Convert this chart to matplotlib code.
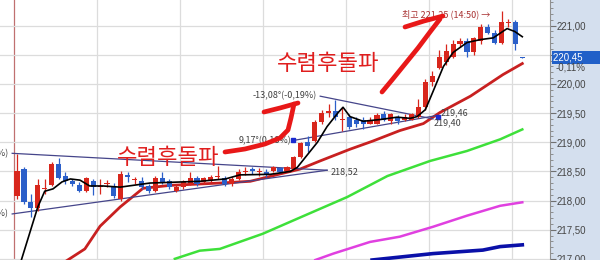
import matplotlib
matplotlib.use('Agg')
import matplotlib.pyplot as plt
import matplotlib.transforms as mtransforms
from matplotlib.ticker import MultipleLocator, FuncFormatter

plt.rcParams['font.family'] = ['Noto Sans CJK KR', 'DejaVu Sans']

# candle data (1 min bars)
opens = [218.08, 218.54, 217.97, 217.87, 218.20, 218.26, 218.62, 218.42, 218.33, 218.26,
         218.16, 218.33, 218.23, 218.28, 218.25, 218.03, 218.44, 218.35, 218.33, 218.25,
         218.16, 218.38, 218.33, 218.16, 218.23, 218.28, 218.38, 218.32, 218.33, 218.40,
         218.38, 218.28, 218.37, 218.49, 218.54, 218.49, 218.49, 218.50, 218.56, 218.50,
         218.54, 218.74, 219.00, 219.02, 219.34, 219.51, 219.53, 219.39, 219.43, 219.39,
         219.38, 219.32, 219.32, 219.48, 219.36, 219.43, 219.38, 219.39, 219.43, 219.60,
         220.03, 220.28, 220.37, 220.47, 220.68, 220.73, 220.54, 220.73, 220.98, 220.88,
         220.71, 221.05, 221.07, 220.46]
highs = [218.80, 218.57, 218.11, 218.37, 218.37, 218.66, 218.73, 218.49, 218.37, 218.32,
         218.40, 218.37, 218.37, 218.35, 218.30, 218.50, 218.49, 218.40, 218.40, 218.28,
         218.42, 218.49, 218.37, 218.26, 218.35, 218.49, 218.42, 218.40, 218.44, 218.59,
         218.42, 218.40, 218.54, 218.57, 218.57, 218.56, 218.54, 218.59, 218.57, 218.59,
         218.76, 219.00, 219.10, 219.38, 219.56, 219.65, 219.72, 219.60, 219.48, 219.43,
         219.43, 219.43, 219.51, 219.53, 219.51, 219.46, 219.48, 219.51, 219.74, 220.08,
         220.22, 220.59, 220.68, 220.76, 220.79, 220.79, 220.81, 221.03, 221.03, 220.93,
         221.25, 221.12, 221.09, 220.47]
lows = [218.03, 217.94, 217.72, 217.82, 218.11, 218.25, 218.37, 218.28, 218.25, 218.15,
        218.15, 218.09, 218.11, 218.23, 218.04, 217.99, 218.32, 218.28, 218.20, 218.13,
        218.15, 218.28, 218.20, 218.15, 218.20, 218.26, 218.25, 218.28, 218.32, 218.37,
        218.25, 218.25, 218.35, 218.44, 218.45, 218.42, 218.40, 218.49, 218.47, 218.49,
        218.52, 218.73, 218.83, 219.00, 219.32, 219.44, 219.39, 219.19, 219.22, 219.26,
        219.22, 219.31, 219.31, 219.36, 219.32, 219.32, 219.36, 219.38, 219.41, 219.56,
        219.96, 220.25, 220.32, 220.45, 220.64, 220.47, 220.50, 220.69, 220.85, 220.68,
        220.69, 220.97, 220.59, 220.44]
closes = [218.51, 217.97, 217.87, 218.26, 218.21, 218.62, 218.38, 218.33, 218.28, 218.16,
          218.38, 218.23, 218.25, 218.30, 218.08, 218.45, 218.40, 218.35, 218.23, 218.16,
          218.38, 218.32, 218.23, 218.23, 218.32, 218.38, 218.28, 218.38, 218.40, 218.40,
          218.28, 218.37, 218.49, 218.50, 218.50, 218.50, 218.44, 218.57, 218.49, 218.57,
          218.74, 218.98, 218.93, 219.34, 219.51, 219.53, 219.43, 219.39, 219.26, 219.31,
          219.32, 219.39, 219.46, 219.39, 219.48, 219.36, 219.44, 219.48, 219.60, 220.04,
          220.13, 220.47, 220.56, 220.68, 220.73, 220.54, 220.78, 220.98, 220.88, 220.71,
          221.07, 221.07, 220.68, 220.45]

# moving averages (bar index, value)
ma5_x = [0.6, 3.0, 4.0, 5.2, 6.5, 7.7, 9.1, 10.5, 12.4, 14.9, 19.2, 26.4, 30.1, 32.2, 36.6,
         39.5, 40.5, 43.4, 44.8, 46.4, 47.1, 48.1, 50.0, 52.5, 54.9, 56.8, 57.8, 59.0, 60.1,
         61.6, 63.0, 65.0, 66.9, 68.8, 70.8, 71.9, 73.0]
ma5_y = [216.97, 217.89, 218.16, 218.20, 218.32, 218.37, 218.35, 218.25, 218.25, 218.23,
         218.30, 218.33, 218.37, 218.44, 218.45, 218.50, 218.57, 219.00, 219.27, 219.51,
         219.60, 219.44, 219.36, 219.39, 219.43, 219.41, 219.44, 219.56, 219.87, 220.30,
         220.54, 220.71, 220.76, 220.79, 220.95, 220.90, 220.81]
ma20_x = [7.2, 9.8, 12.0, 14.9, 18.2, 22.1, 29.3, 33.7, 36.1, 40.9, 43.8, 48.1, 51.4, 55.3,
          58.7, 61.1, 65.5, 70.2, 73.0]
ma20_y = [216.97, 217.17, 217.56, 217.89, 218.21, 218.26, 218.30, 218.33, 218.40, 218.54,
          218.68, 218.88, 219.02, 219.20, 219.32, 219.51, 219.79, 220.16, 220.35]
ma60_x = [22.8, 26.4, 29.3, 35.5, 41.3, 47.7, 53.5, 59.7, 65.0, 69.8, 73.0]
ma60_y = [217.00, 217.14, 217.17, 217.43, 217.73, 218.06, 218.42, 218.68, 218.85, 219.05, 219.22]
ma120_x = [43.1, 45.7, 51.0, 55.3, 60.1, 65.0, 69.8, 73.0]
ma120_y = [216.98, 217.09, 217.29, 217.38, 217.55, 217.74, 217.91, 217.97]
ma240_x = [51.3, 55.3, 60.1, 67.3, 69.8, 73.0]
ma240_y = [216.98, 217.03, 217.09, 217.15, 217.21, 217.24]

# trend lines: (x0, y0, x1, y1)
trend_lines = [(-0.7, 218.81, 44.8, 218.52),
               (-0.7, 217.77, 44.8, 218.52),
               (43.8, 219.79, 60.1, 219.40),
               (39.9, 219.03, 60.7, 219.46)]

last_price = 220.45
last_change = '-0,11%'
high_price = 221.25
high_time = '14:50'

UP = '#d8261c'
DOWN = '#2b5fc9'
TL = '#45458a'

fig = plt.figure(figsize=(6, 2.6), dpi=100, facecolor='#d4dfee')
ax = fig.add_axes([0, 0, 550 / 600, 1])
ax.set_facecolor('white')
ax.set_xlim(-2.46, 77.0)
ax.set_ylim(216.98, 221.44)

# grid
ax.yaxis.set_major_locator(MultipleLocator(0.5))
ax.yaxis.set_minor_locator(MultipleLocator(0.1))
ax.grid(axis='y', which='major', color='#dcdcdc', lw=0.9, zorder=0)
for gx in [11.5, 23.5, 35.5, 47.5, 59.5, 71.5]:
    ax.axvline(gx, color='#dcdcdc', lw=0.9, zorder=0)
ax.axvline(-0.45, color='#c07070', lw=0.9, zorder=0)

# moving averages
ax.plot(ma240_x, ma240_y, color='#0a10a8', lw=2.6, zorder=2)
ax.plot(ma120_x, ma120_y, color='#e040e0', lw=1.8, zorder=2)
ax.plot(ma60_x, ma60_y, color='#3ee03a', lw=1.8, zorder=2)
ax.plot(ma20_x, ma20_y, color='#c82020', lw=2.0, zorder=2)

# trend lines
for x0, y0, x1, y1 in trend_lines:
    ax.plot([x0, x1], [y0, y1], color=TL, lw=0.9, zorder=3)
ax.plot([39.9, 60.8], [219.03, 219.44], ls='none', marker='s', ms=3.5, color='#1a2ad0', zorder=6)

# candles
for i in range(len(opens)):
    o, h, l, c = opens[i], highs[i], lows[i], closes[i]
    col = UP if c >= o else DOWN
    ax.vlines(i, l, h, color=col, lw=0.9, zorder=4)
    ax.bar(i, max(abs(c - o), 0.015), bottom=min(o, c), width=0.74, color=col, lw=0, zorder=5)

ax.plot(ma5_x, ma5_y, color='black', lw=1.2, zorder=6)

# labels on trend lines
lab = dict(fontsize=6.5, color='#404040', zorder=7)
ax.text(45.3, 218.50, '218,52', va='center', ha='left', **lab)
ax.text(43.3, 219.80, '-13,08°(-0,19%)', va='center', ha='right', **lab)
ax.text(39.6, 219.03, '9,17°(0,18%)', va='center', ha='right', **lab)
ax.text(61.2, 219.50, '219,46', va='center', ha='left', **lab)
ax.text(60.2, 219.33, '219,40', va='center', ha='left', **lab)
ax.text(-1.2, 218.81, '-2,41°(-0,13%)', va='center', ha='right', **lab)
ax.text(-1.2, 217.77, '5,66°(0,34%)', va='center', ha='right', **lab)
ax.text(55.6, 221.19, f'최고 {high_price:.2f} ({high_time}) →'.replace('.', ','),
        va='center', ha='left', fontsize=6.5, color='#a83030', zorder=7)

# handwritten notes
note = dict(fontsize=16, color='#e01e1e', va='center', ha='left', weight='medium', zorder=8)
ax.text(14.4, 218.73, '수렴후돌파', **note)
ax.text(37.5, 220.35, '수렴후돌파', **note)

# right price axis
ax.yaxis.tick_right()
ax.yaxis.set_major_formatter(FuncFormatter(lambda v, p: f'{v:.2f}'.replace('.', ',')))
ax.tick_params(axis='y', which='major', length=4, color='#707070', labelsize=7,
               labelcolor='#454545', pad=1)
ax.tick_params(axis='y', which='minor', length=2, color='#808080')
ax.tick_params(axis='x', bottom=False, labelbottom=False)
for s in ['top', 'left', 'bottom']:
    ax.spines[s].set_visible(False)
ax.spines['right'].set_color('#909090')
for t in ax.get_yticklabels():
    t.set_fontfamily('Liberation Sans')

tr = mtransforms.blended_transform_factory(ax.transAxes, ax.transData)
ax.text(1.006, last_price, f'{last_price:.2f}'.replace('.', ',') + '        ', transform=tr,
        va='center', ha='left', fontsize=7, color='white', family='Liberation Sans',
        bbox=dict(boxstyle='square,pad=0.18', fc='#2160c8', ec='none'), clip_on=False, zorder=10)
ax.text(1.01, 220.29, last_change, transform=tr, va='center', ha='left', fontsize=7,
        color='#454545', family='Liberation Sans', clip_on=False, zorder=10)

# red marker strokes drawn on top (pixel space overlay)
ov = fig.add_axes([0, 0, 1, 1])
ov.set_xlim(0, 600)
ov.set_ylim(260, 0)
ov.axis('off')
ov.patch.set_alpha(0)
pen = dict(color='#e81818', lw=3.4, solid_capstyle='round', solid_joinstyle='round')
ov.plot([225, 245, 265, 280, 288, 291, 294], [152, 149, 144, 138, 130, 118, 104], **pen)
ov.plot([264, 280, 298], [112, 108, 103], **pen)
ov.plot([382, 392, 405, 418, 430, 440], [92, 80, 64, 48, 32, 19], **pen)
ov.plot([405, 424, 443], [27, 21, 16], **pen)

fig.savefig('out.png', dpi=100, facecolor=fig.get_facecolor())
